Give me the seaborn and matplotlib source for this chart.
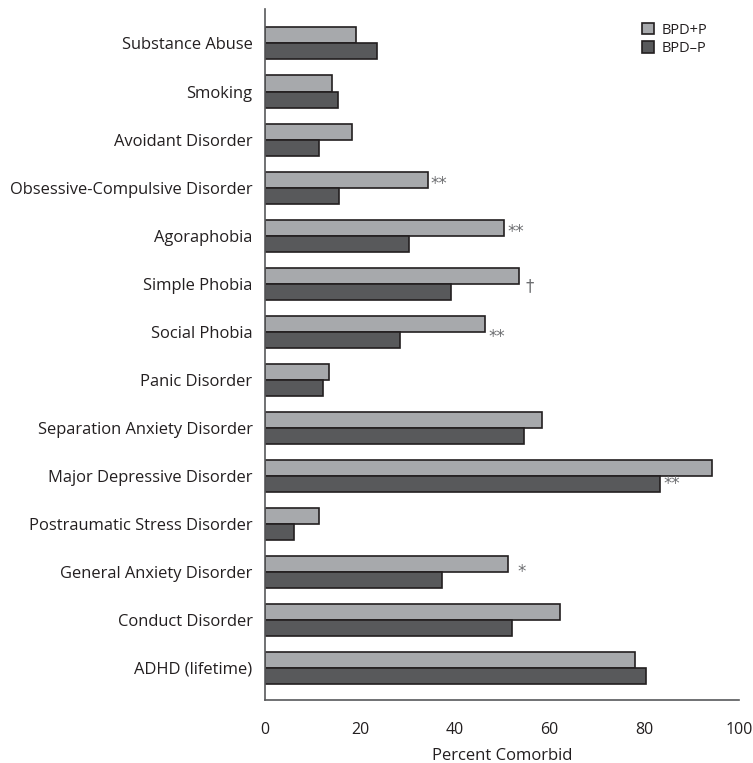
import pandas as pd
import numpy as np
import matplotlib.pyplot as plt
import seaborn as sns

# categories (top to bottom) and percent comorbid per group
categories = ['Substance Abuse', 'Smoking', 'Avoidant Disorder',
              'Obsessive-Compulsive Disorder', 'Agoraphobia', 'Simple Phobia',
              'Social Phobia', 'Panic Disorder', 'Separation Anxiety Disorder',
              'Major Depressive Disorder', 'Postraumatic Stress Disorder',
              'General Anxiety Disorder', 'Conduct Disorder', 'ADHD (lifetime)']
bpd_plus = [19.2, 14.2, 18.4, 34.3, 50.4, 53.6, 46.4, 13.4, 58.3, 94.3, 11.3, 51.2, 62.2, 77.9]
bpd_minus = [23.5, 15.4, 11.4, 15.5, 30.4, 39.2, 28.4, 12.3, 54.5, 83.3, 6.2, 37.4, 52.1, 80.3]
signif = ['', '', '', '**', '**', '\u2020', '**', '', '', '**', '', '*', '', '']
groups = ['BPD+P', 'BPD\u2013P']

df = pd.DataFrame({
    'cat': categories * 2,
    'val': bpd_plus + bpd_minus,
    'grp': [groups[0]] * len(categories) + [groups[1]] * len(categories),
})

sns.set_style('white')
plt.rcParams['font.family'] = ['Open Sans', 'DejaVu Sans']

fig = plt.figure(figsize=(7.53, 7.63), dpi=100)
ax = fig.add_axes([0.352, 0.0826, 0.63, 0.905])

light, dark = '#a7a9ac', '#58595b'
sns.barplot(data=df, y='cat', x='val', hue='grp', orient='h',
            palette=[light, dark], width=0.667, edgecolor='#231f20',
            linewidth=1.2, ax=ax, saturation=1)

ax.set_xlim(0, 100)
ax.set_ylim(13.667, -0.708)
ax.set_xticks([0, 20, 40, 60, 80, 100])
ax.set_xlabel('Percent Comorbid', fontsize=12, color='#231f20', labelpad=7)
ax.set_ylabel('')
ax.tick_params(axis='x', length=6, width=1.2, color='#58595b', labelsize=11.5,
               labelcolor='#231f20', direction='out', pad=10)
ax.tick_params(axis='y', length=0, labelsize=11.9, labelcolor='#231f20', pad=9)
for s in ['top', 'right']:
    ax.spines[s].set_visible(False)
for s in ['left', 'bottom']:
    ax.spines[s].set_color('#58595b')
    ax.spines[s].set_linewidth(1.2)

# significance markers: which bar they follow and vertical shift
sig_pos = {3: (0, -0.08), 4: (0, -0.08), 5: (0, 0.05), 6: (0, 0.12),
           9: (1, 0.18), 11: (0, 0.0)}
for i, s in enumerate(signif):
    if not s:
        continue
    bar, dy = sig_pos[i]
    x = (bpd_plus if bar == 0 else bpd_minus)[i] + 0.6
    if s == '\u2020':
        x += 0.8
    if s == '*':
        x += 1.5
    ax.text(x, i + dy, s, fontsize=12, color='#6d6e71',
            va='center', ha='left', family=['DejaVu Sans'])

leg = ax.legend(loc='upper right', bbox_to_anchor=(0.96, 1.0), frameon=False,
                fontsize=10.5, handlelength=0.85, handleheight=0.85,
                handletextpad=0.5, labelspacing=0.25)
for t in leg.get_texts():
    t.set_color('#231f20')

fig.savefig('out.png', dpi=100)
